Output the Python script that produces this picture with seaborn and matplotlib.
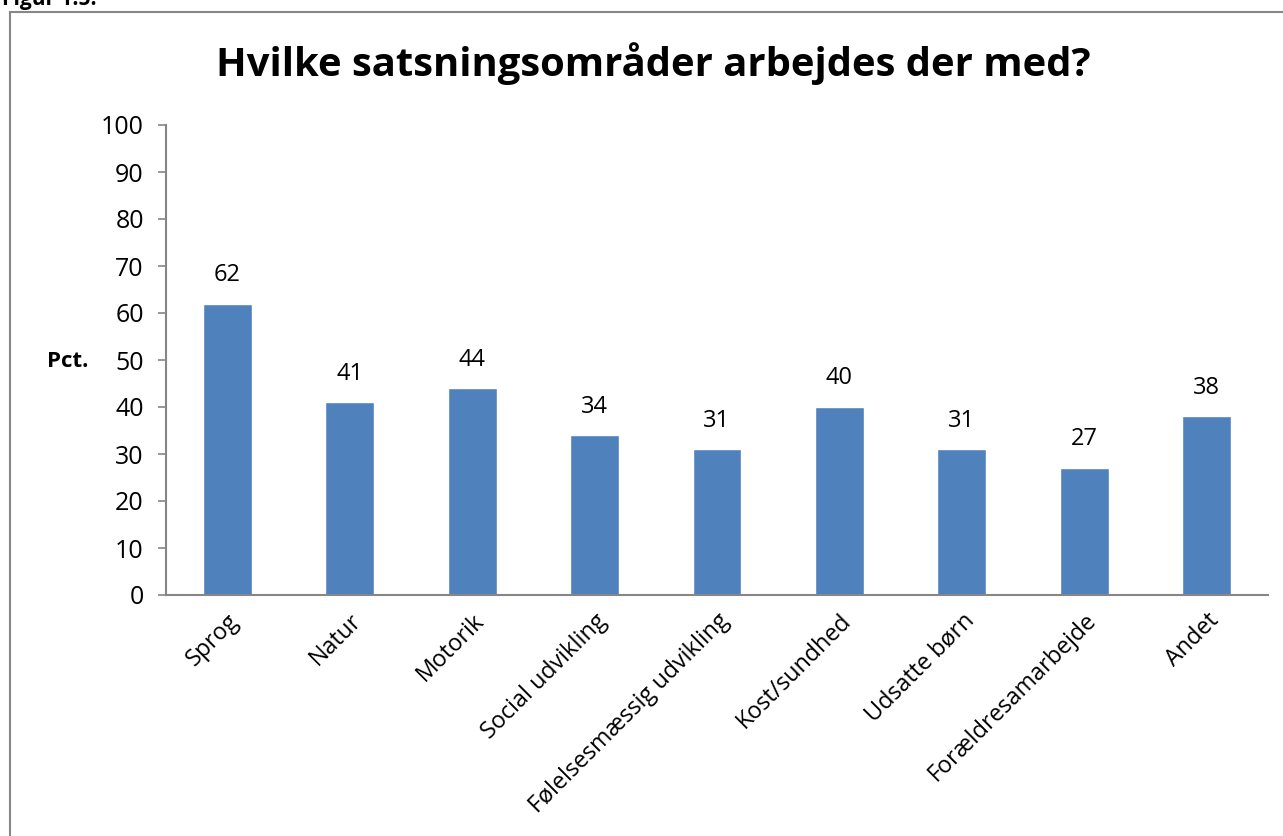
import matplotlib
matplotlib.use("Agg")
import matplotlib.pyplot as plt
import seaborn as sns
import pandas as pd
from matplotlib.patches import Rectangle

categories = ["Sprog", "Natur", "Motorik", "Social udvikling", "Følelsesmæssig udvikling",
              "Kost/sundhed", "Udsatte børn", "Forældresamarbejde", "Andet"]
values = [62, 41, 44, 34, 31, 40, 31, 27, 38]
y_ticks = [0, 10, 20, 30, 40, 50, 60, 70, 80, 90, 100]

sns.set_theme(style="white")
plt.rcParams['font.family'] = ['Open Sans', 'DejaVu Sans']
plt.rcParams['text.color'] = 'black'
plt.rcParams['xtick.labelcolor'] = 'black'
plt.rcParams['ytick.labelcolor'] = 'black'

df = pd.DataFrame({"omraade": categories, "pct": values})

fig = plt.figure(figsize=(12.83, 8.36), dpi=100)
ax = fig.add_axes([166 / 1283, 1 - 595 / 836, (1268 - 166) / 1283, (595 - 125) / 836])

sns.barplot(data=df, x="omraade", y="pct", color="#4F81BD", width=0.4,
            saturation=1, ax=ax)

# value labels above bars
ax.bar_label(ax.containers[0], labels=[str(v) for v in values], padding=12,
             fontsize=17, color="black")

ax.set_ylim(0, 100)
ax.set_yticks(y_ticks)
ax.set_yticklabels([str(t) for t in y_ticks], fontsize=18)
ax.set_xlim(-0.5, len(categories) - 0.5)
ax.set_xlabel("")
ax.set_ylabel("")

ax.set_xticks(range(len(categories)))
ax.set_xticklabels(categories, rotation=45, ha="right", va="top",
                   rotation_mode="anchor", fontsize=16.8)
ax.tick_params(axis="x", length=0, pad=10, labelcolor="black")
ax.tick_params(axis="y", direction="out", length=6, width=1.2, color="#868686",
               left=True, pad=10, labelcolor="black")

for side in ["top", "right"]:
    ax.spines[side].set_visible(False)
for side in ["left", "bottom"]:
    ax.spines[side].set_color("#868686")
    ax.spines[side].set_linewidth(1.5)

# title and axis label
fig.text(0.5 * (218 + 1088) / 1283, 1 - 64 / 836, "Hvilke satsningsområder arbejdes der med?",
         ha="center", va="center", fontsize=28.8, fontweight="bold", color="black")
fig.text(47 / 1283, 1 - 361 / 836, "Pct.", ha="left", va="center",
         fontsize=16, fontweight="bold", color="black")
fig.text(2 / 1283, 1 - 5 / 836, "Figur 1.5:", ha="left", va="baseline",
         fontsize=15, fontweight="bold", color="black")

# chart frame
fig.patches.append(Rectangle((10 / 1283, -0.05), 1.2, 1 - 12 / 836 + 0.05,
                             transform=fig.transFigure, fill=False,
                             edgecolor="#878787", linewidth=1.5))

fig.savefig("out.png", dpi=100)
